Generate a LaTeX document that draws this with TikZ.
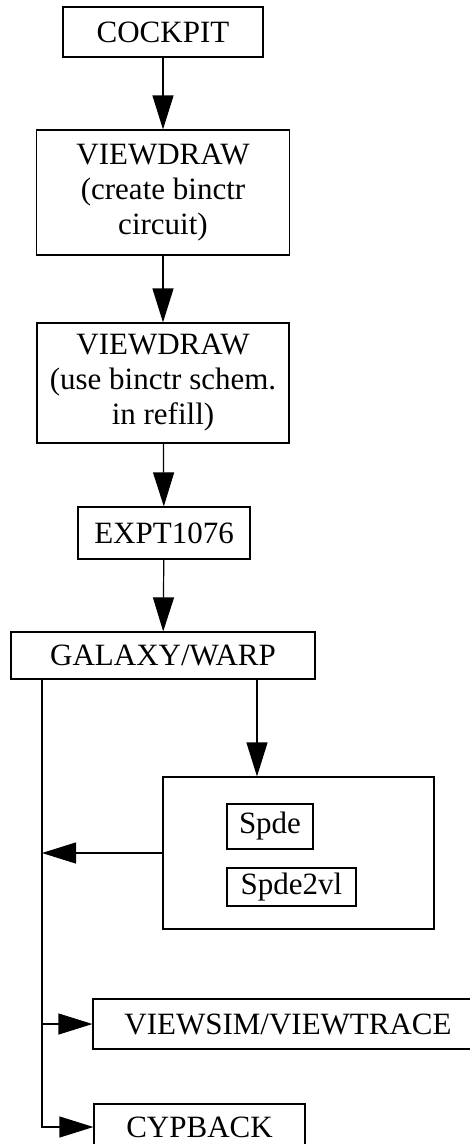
\documentclass[tikz,border=0pt]{standalone}
\usepackage{fontspec}
\setmainfont{Liberation Serif}
\usepackage{tikz}
\usetikzlibrary{arrows.meta}

\begin{document}
\begin{tikzpicture}[x=1pt, y=-1pt,
    blk/.style={draw, line width=1.2pt, inner sep=0pt, align=center,
        font=\fontsize{31}{35}\selectfont},
    arr/.style={-{Triangle[length=34pt, width=21pt]}, line width=1.2pt}]
    \useasboundingbox (0,0) rectangle (470,1144);
    \clip (0,0) rectangle (470,1144);

    % main chain of tools
    \node[blk, minimum width=200pt, minimum height=50pt] (cockpit) at (163,32) {COCKPIT};
    \node[blk, minimum width=253pt, minimum height=125pt] (vdcreate) at (163,192.5)
        {VIEWDRAW\\(create binctr\\circuit)};
    \node[blk, minimum width=252pt, minimum height=120pt] (vduse) at (163,383)
        {VIEWDRAW\\(use binctr schem.\\in refill)};
    \node[blk, minimum width=172pt, minimum height=52pt] (expt) at (164,533) {EXPT1076};
    \node[blk, minimum width=304pt, minimum height=47pt] (galaxy) at (163,655.5) {GALAXY/WARP};

    \draw[arr] (cockpit) -- (vdcreate);
    \draw[arr] (vdcreate) -- (vduse);
    \draw[arr] (vduse) -- (expt);
    \draw[arr] (expt) -- (galaxy);

    % simulator box with its two models
    \node[blk, minimum width=271pt, minimum height=152pt] (simbox) at (298.5,853) {};
    \node[blk, minimum width=86pt, minimum height=45pt] (spde) at (270,826.5) {Spde};
    \node[blk, minimum width=129pt, minimum height=38pt] (spdevl) at (291.5,887) {Spde2vl};
    \draw[arr] ([xshift=-41.5pt]simbox.north |- galaxy.south) -- ([xshift=-41.5pt]simbox.north);

    % output tools
    \node[blk, minimum width=390pt, minimum height=50pt] (viewsim) at (288,1024) {VIEWSIM/VIEWTRACE};
    \node[blk, minimum width=211pt, minimum height=46pt] (cypback) at (199.5,1127) {CYPBACK};

    % trunk on the left
    \coordinate (bend) at (42,1127);
    \draw[arr] (galaxy.south -| bend) -- (bend) -- (cypback.west);
    \draw[arr] (simbox.west) -- (simbox.west -| bend);
    \draw[arr] (viewsim.west -| bend) -- (viewsim.west);
\end{tikzpicture}
\end{document}
